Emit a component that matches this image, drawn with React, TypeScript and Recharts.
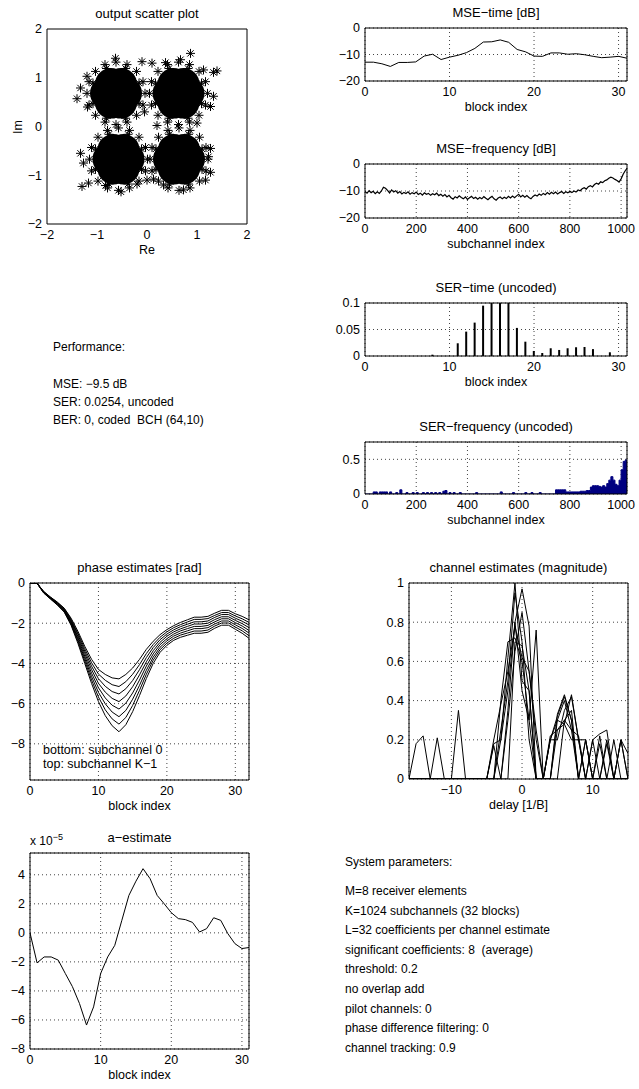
import React from 'react';
import {
  ComposedChart,
  ScatterChart,
  Scatter,
  Line,
  Bar,
  Area,
  XAxis,
  YAxis,
  CartesianGrid,
  ReferenceArea,
} from 'recharts';

const FONT = '"Liberation Sans", Arial, Helvetica, sans-serif';

// ---------- data ----------

// scatter plot: dense cluster cores (drawn as filled discs) and the ragged edge / outlier points
const scatterCore: [number, number][] = [
  [-0.62, 0.68], [-0.42, 0.68], [-0.52, 0.87], [-0.72, 0.87], [-0.82, 0.68], [-0.72, 0.49], [-0.52, 0.49],
  [0.63, 0.68], [0.83, 0.68], [0.73, 0.87], [0.53, 0.87], [0.43, 0.68], [0.53, 0.49], [0.73, 0.49],
  [-0.57, -0.67], [-0.37, -0.67], [-0.47, -0.48], [-0.67, -0.48], [-0.77, -0.67], [-0.67, -0.86], [-0.47, -0.86],
  [0.64, -0.67], [0.84, -0.67], [0.74, -0.48], [0.54, -0.48], [0.44, -0.67], [0.54, -0.86], [0.74, -0.86],
];

const scatterEdge: [number, number][] = [
  // upper left
  [-0.16, 0.89], [-0.43, 1.19], [-0.81, 1.19], [-1.08, 0.89], [-1.08, 0.47], [-0.81, 0.17], [-0.43, 0.17], [-0.16, 0.47],
  [-0.04, 0.68], [-0.08, 0.92], [-0.21, 1.13], [-0.4, 1.27], [-0.62, 1.32], [-0.84, 1.27], [-1.03, 1.13], [-1.16, 0.92],
  [-1.2, 0.68], [-1.16, 0.44], [-1.03, 0.23], [-0.84, 0.09], [-0.62, 0.04], [-0.4, 0.09], [-0.21, 0.23], [-0.08, 0.44],
  // upper right
  [1.09, 0.89], [0.82, 1.19], [0.44, 1.19], [0.17, 0.89], [0.17, 0.47], [0.44, 0.17], [0.82, 0.17], [1.09, 0.47],
  [1.21, 0.68], [1.17, 0.92], [1.04, 1.13], [0.85, 1.27], [0.63, 1.32], [0.41, 1.27], [0.22, 1.13], [0.09, 0.92],
  [0.05, 0.68], [0.09, 0.44], [0.22, 0.23], [0.41, 0.09], [0.63, 0.04], [0.85, 0.09], [1.04, 0.23], [1.17, 0.44],
  // lower left
  [-0.11, -0.46], [-0.38, -0.16], [-0.76, -0.16], [-1.03, -0.46], [-1.03, -0.88], [-0.76, -1.18], [-0.38, -1.18], [-0.11, -0.88],
  [0.01, -0.67], [-0.03, -0.43], [-0.16, -0.22], [-0.35, -0.08], [-0.57, -0.03], [-0.79, -0.08], [-0.98, -0.22], [-1.11, -0.43],
  [-1.15, -0.67], [-1.11, -0.91], [-0.98, -1.12], [-0.79, -1.26], [-0.57, -1.31], [-0.35, -1.26], [-0.16, -1.12], [-0.03, -0.91],
  // lower right
  [1.1, -0.46], [0.83, -0.16], [0.45, -0.16], [0.18, -0.46], [0.18, -0.88], [0.45, -1.18], [0.83, -1.18], [1.1, -0.88],
  [1.22, -0.67], [1.18, -0.43], [1.05, -0.22], [0.86, -0.08], [0.64, -0.03], [0.42, -0.08], [0.23, -0.22], [0.1, -0.43],
  [0.06, -0.67], [0.1, -0.91], [0.23, -1.12], [0.42, -1.26], [0.64, -1.31], [0.86, -1.26], [1.05, -1.12], [1.18, -0.91],
  // outliers
  [0.87, 1.5], [-0.63, 1.4], [-0.1, 1.33], [0.1, 1.3], [0.37, 1.31], [0.67, 1.37], [1.13, 1.16], [1.4, 1.14], [1.33, 1.11],
  [-1.2, 1.03], [-1.33, 0.79], [-1.4, 0.57], [-1.19, 0.4], [1.33, 0.62], [1.27, 0.41], [1.0, 0.07], [-1.33, -0.55],
  [-1.27, -0.75], [-1.17, -1.16], [-1.3, -1.23], [-0.83, -1.21], [-0.52, -1.34], [-0.2, -1.18], [0.0, -1.1], [0.13, -1.08],
  [0.33, -1.2], [0.73, -1.3], [1.17, -1.1], [1.27, -0.45], [1.23, -0.62], [1.27, -0.94], [-0.05, 0.3], [0.2, 0.02],
];

const blocks = [0, 1, 2, 3, 4, 5, 6, 7, 8, 9, 10, 11, 12, 13, 14, 15, 16, 17, 18, 19, 20, 21, 22, 23, 24, 25, 26, 27, 28, 29, 30, 31];
const phaseBlocks = [0, 1, 2, 3, 4, 5, 6, 7, 8, 9, 10, 11, 12, 13, 14, 15, 16, 17, 18, 19, 20, 21, 22, 23, 24, 25, 26, 27, 28, 29, 30, 31, 32];
const delays = [-16, -15, -14, -13, -12, -11, -10, -9, -8, -7, -6, -5, -4, -3, -2, -1, 0, 1, 2, 3, 4, 5, 6, 7, 8, 9, 10, 11, 12, 13, 14, 15];

const mseTime = [
  -12.9, -12.9, -13.5, -14.5, -13.0, -13.0, -12.8, -10.6, -9.9, -11.9, -11.0, -10.3, -9.3, -7.7, -5.3, -5.2,
  -4.5, -5.4, -8.1, -9.0, -10.6, -10.7, -9.4, -9.4, -9.9, -9.7, -10.1, -10.7, -11.2, -11.0, -10.7, -11.4,
];

// one value every 8 subchannels
const FREQ_STEP = 8;
const mseFreq = [
  -10.2, -10.8, -9.9, -10.6, -10.1, -11.0, -10.3, -10.9, -10.0, -8.6, -9.0, -9.8, -10.7, -9.6, -10.4, -9.9,
  -10.8, -10.2, -11.1, -10.5, -10.9, -10.3, -11.2, -10.6, -11.0, -10.4, -11.3, -10.8, -11.5, -10.7, -11.2, -10.9,
  -11.6, -11.0, -11.4, -10.8, -11.7, -11.2, -11.9, -11.3, -12.2, -11.6, -12.5, -13.0, -12.1, -12.6, -11.8, -12.4,
  -12.9, -12.2, -13.1, -12.5, -12.0, -12.8, -12.3, -13.0, -12.4, -12.9, -12.1, -12.7, -13.2, -12.5, -12.0, -12.9,
  -13.4, -12.6, -12.2, -12.9, -12.3, -12.8, -12.0, -12.6, -11.9, -12.5, -11.8, -11.2, -12.2, -11.6, -12.3, -11.7,
  -12.4, -12.9, -12.0, -11.5, -11.9, -11.1, -11.6, -10.9, -11.4, -10.6, -11.2, -10.5, -11.0, -10.4, -11.1, -10.6,
  -10.2, -10.9, -10.3, -10.7, -10.1, -10.6, -10.0, -10.4, -9.6, -9.9, -9.2, -8.8, -9.3, -8.4, -8.0, -8.5,
  -7.6, -7.1, -7.5, -6.6, -6.9, -6.2, -5.9, -5.3, -4.9, -5.2, -5.7, -6.1, -6.7, -5.5, -3.8, -2.5,
  -1.6,
];

const serTime = [
  0, 0, 0, 0, 0, 0, 0, 0, 0.0025, 0, 0, 0.024, 0.046, 0.063, 0.095, 0.13,
  0.14, 0.12, 0.053, 0.027, 0.0095, 0.0057, 0.0146, 0.0114, 0.0146, 0.0165, 0.017, 0.013, 0, 0.007, 0, 0,
];

const serFreq = [
  0, 0, 0, 0, 0.03, 0.03, 0, 0.03, 0.03, 0.03, 0.03, 0, 0.03, 0, 0, 0.02,
  0, 0.06, 0, 0, 0.02, 0, 0, 0.02, 0, 0.02, 0, 0, 0.02, 0, 0.02, 0,
  0.02, 0, 0.02, 0, 0.02, 0, 0.04, 0.05, 0, 0.02, 0, 0.02, 0, 0, 0.02, 0,
  0, 0, 0, 0, 0, 0, 0.02, 0, 0, 0, 0, 0, 0, 0, 0, 0,
  0, 0, 0.03, 0, 0, 0, 0, 0, 0.02, 0, 0, 0, 0, 0, 0.02, 0,
  0, 0.02, 0, 0, 0, 0.02, 0, 0, 0, 0, 0, 0, 0, 0.06, 0.06, 0.06,
  0.06, 0.06, 0.03, 0.03, 0.03, 0.03, 0.03, 0.03, 0.03, 0.04, 0.04, 0.04, 0.05, 0.05, 0.1, 0.12,
  0.12, 0.12, 0.11, 0.1, 0.12, 0.1, 0.15, 0.2, 0.25, 0.2, 0.14, 0.12, 0.2, 0.35, 0.47, 0.49,
  0.5,
];

// phase estimates, bottom curve (subchannel 0) first, top curve (subchannel K-1) last
const phaseCurves = [
  [0, 0, -0.5, -0.8, -1.1, -1.45, -2.1, -3.0, -4.0, -5.0, -5.9, -6.6, -7.1, -7.4, -7.05, -6.4, -5.6, -4.75, -4.0, -3.45, -3.1, -2.85, -2.7, -2.6, -2.5, -2.5, -2.45, -2.25, -2.1, -2.1, -2.3, -2.5, -2.75],
  [0, 0, -0.49, -0.79, -1.08, -1.42, -2.05, -2.91, -3.88, -4.83, -5.67, -6.31, -6.76, -7.02, -6.69, -6.09, -5.34, -4.54, -3.84, -3.32, -2.99, -2.75, -2.59, -2.49, -2.39, -2.39, -2.34, -2.14, -1.99, -1.99, -2.19, -2.38, -2.62],
  [0, 0, -0.48, -0.77, -1.06, -1.39, -2.0, -2.83, -3.76, -4.66, -5.44, -6.01, -6.42, -6.65, -6.34, -5.78, -5.09, -4.34, -3.69, -3.2, -2.88, -2.64, -2.49, -2.38, -2.27, -2.27, -2.22, -2.04, -1.89, -1.89, -2.08, -2.26, -2.49],
  [0, 0, -0.47, -0.76, -1.04, -1.36, -1.95, -2.74, -3.64, -4.49, -5.21, -5.72, -6.08, -6.27, -5.98, -5.47, -4.83, -4.13, -3.53, -3.07, -2.77, -2.54, -2.38, -2.27, -2.16, -2.16, -2.11, -1.93, -1.78, -1.78, -1.97, -2.14, -2.36],
  [0, 0, -0.45, -0.74, -1.01, -1.34, -1.9, -2.66, -3.51, -4.31, -4.99, -5.43, -5.74, -5.9, -5.62, -5.16, -4.57, -3.92, -3.37, -2.95, -2.65, -2.43, -2.28, -2.16, -2.04, -2.04, -2.0, -1.82, -1.68, -1.68, -1.86, -2.02, -2.22],
  [0, 0, -0.44, -0.73, -0.99, -1.31, -1.85, -2.57, -3.39, -4.14, -4.76, -5.14, -5.4, -5.52, -5.26, -4.85, -4.31, -3.71, -3.21, -2.82, -2.54, -2.33, -2.17, -2.05, -1.93, -1.93, -1.89, -1.71, -1.57, -1.57, -1.75, -1.9, -2.09],
  [0, 0, -0.43, -0.71, -0.97, -1.28, -1.8, -2.49, -3.27, -3.97, -4.53, -4.84, -5.06, -5.15, -4.91, -4.54, -4.06, -3.51, -3.06, -2.7, -2.43, -2.22, -2.07, -1.94, -1.81, -1.81, -1.77, -1.61, -1.47, -1.47, -1.64, -1.78, -1.96],
  [0, 0, -0.42, -0.7, -0.95, -1.25, -1.75, -2.4, -3.15, -3.8, -4.3, -4.55, -4.72, -4.77, -4.55, -4.23, -3.8, -3.3, -2.9, -2.57, -2.32, -2.12, -1.96, -1.83, -1.7, -1.7, -1.66, -1.5, -1.36, -1.36, -1.53, -1.66, -1.83],
];

// channel estimate magnitude, one curve per receiver element
const channelCurves = [
  [0, 0.18, 0.22, 0, 0.21, 0, 0, 0.35, 0, 0, 0, 0, 0.18, 0.2, 0.62, 1.0, 0.5, 0.45, 0, 0, 0.22, 0.25, 0.28, 0.2, 0.2, 0, 0.2, 0.23, 0.25, 0, 0, 0],
  [0, 0, 0, 0, 0, 0, 0, 0, 0, 0, 0, 0, 0.17, 0, 0.35, 0.8, 0.97, 0.78, 0, 0, 0, 0.33, 0.43, 0.3, 0, 0, 0, 0, 0.18, 0, 0.2, 0],
  [0, 0, 0, 0, 0, 0, 0, 0, 0, 0, 0, 0, 0, 0.4, 0.7, 0.72, 0.6, 0.3, 0.76, 0, 0.2, 0.3, 0.28, 0.43, 0.2, 0.2, 0, 0.18, 0, 0, 0.2, 0.13],
  [0, 0, 0, 0, 0, 0, 0, 0, 0, 0, 0, 0, 0, 0.25, 0.5, 0.95, 0.7, 0.2, 0, 0, 0, 0.3, 0.4, 0.25, 0, 0, 0.2, 0, 0, 0, 0, 0],
  [0, 0, 0, 0, 0, 0, 0, 0, 0, 0, 0, 0, 0, 0, 0.3, 0.65, 0.85, 0.55, 0.2, 0, 0.2, 0.2, 0.35, 0.42, 0.2, 0, 0, 0, 0, 0.2, 0, 0],
  [0, 0, 0, 0, 0, 0, 0, 0, 0, 0, 0, 0, 0, 0.2, 0.45, 0.8, 0.45, 0.3, 0, 0, 0, 0, 0.3, 0.25, 0.22, 0, 0, 0, 0.2, 0, 0, 0],
  [0, 0, 0, 0, 0, 0, 0, 0, 0, 0, 0, 0, 0.2, 0.38, 0.55, 0.78, 0.62, 0.55, 0.25, 0, 0, 0.25, 0.3, 0.35, 0, 0.2, 0, 0, 0, 0, 0, 0],
  [0, 0, 0, 0, 0, 0, 0, 0, 0, 0, 0, 0, 0, 0, 0, 0.7, 0.68, 0.45, 0, 0, 0.2, 0.32, 0.42, 0.3, 0, 0.2, 0, 0.22, 0, 0, 0.2, 0],
];

// a-estimate in units of 1e-5
const aEstimate = [
  0, -2.07, -1.66, -1.66, -1.88, -2.8, -3.7, -4.86, -6.35, -5.1, -2.8, -1.66, -0.86, 0.86, 2.58, 3.56,
  4.42, 3.73, 2.58, 2.0, 1.39, 0.98, 0.91, 0.72, 0.06, 0.29, 1.04, 0.86, -0.05, -0.74, -1.08, -1.01,
];

const performanceLines = ['Performance:', '', 'MSE: \u22129.5 dB', 'SER: 0.0254, uncoded', 'BER: 0, coded  BCH (64,10)'];
const systemLines = [
  'M=8 receiver elements',
  'K=1024 subchannels (32 blocks)',
  'L=32 coefficients per channel estimate',
  'significant coefficients: 8  (average)',
  'threshold: 0.2',
  'no overlap add',
  'pilot channels: 0',
  'phase difference filtering: 0',
  'channel tracking: 0.9',
];

// ---------- tables for recharts ----------
const freqX = (i: number) => Math.min(i * FREQ_STEP, 1023);
const mseTimeRows = blocks.map((x, i) => ({ x, v: mseTime[i] }));
const mseFreqRows = mseFreq.map((v, i) => ({ x: freqX(i), v }));
const serTimeRows = blocks.map((x, i) => ({ x, v: serTime[i] }));
const serFreqRows = serFreq.map((v, i) => ({ x: freqX(i), v }));
const phaseRows = phaseBlocks.map((x, i) => {
  const row: Record<string, number> = { x };
  phaseCurves.forEach((c, k) => (row['p' + k] = c[i]));
  return row;
});
const channelRows = delays.map((x, i) => {
  const row: Record<string, number> = { x };
  channelCurves.forEach((c, k) => (row['c' + k] = c[i]));
  return row;
});
const aRows = blocks.map((x, i) => ({ x, v: aEstimate[i] }));
const coreRows = scatterCore.map(([x, y]) => ({ x, y }));
const edgeRows = scatterEdge.map(([x, y]) => ({ x, y }));

// ---------- layout ----------
type Box = { x: number; y: number; w: number; h: number };
const YW = 46;
const XH = 22;
const PT = 10;
const PR = 18;

const B = {
  scatter: { x: 47, y: 29, w: 200, h: 195 },
  mseT: { x: 365, y: 28, w: 262, h: 53 },
  mseF: { x: 365, y: 164, w: 262, h: 54 },
  serT: { x: 365, y: 303, w: 262, h: 53 },
  serF: { x: 365, y: 442, w: 262, h: 52 },
  phase: { x: 30, y: 583, w: 219, h: 197 },
  chan: { x: 409, y: 583, w: 219, h: 196 },
  aEst: { x: 30, y: 853, w: 219, h: 196 },
};

const dims = (b: Box) => ({
  width: YW + b.w + PR,
  height: PT + b.h + XH,
  margin: { top: PT, right: PR, bottom: 0, left: 0 },
});

const tickStyle = { fill: '#000', fontSize: 12.5, fontFamily: FONT };
const fmt = (v: number) => String(v).replace('-', '\u2212');

const xa = (domain: [number, number], ticks: number[]) => ({
  type: 'number' as const,
  dataKey: 'x',
  domain,
  ticks,
  interval: 0 as const,
  allowDataOverflow: true,
  axisLine: false,
  tickLine: false,
  tickSize: 0,
  tickMargin: 6,
  height: XH,
  tick: tickStyle,
  tickFormatter: fmt,
});

const ya = (domain: [number, number], ticks: number[]) => ({
  type: 'number' as const,
  domain,
  ticks,
  interval: 0 as const,
  allowDataOverflow: true,
  axisLine: false,
  tickLine: false,
  tickSize: 0,
  tickMargin: 5,
  width: YW,
  tick: tickStyle,
  tickFormatter: fmt,
});

const grid = <CartesianGrid stroke="#444" strokeDasharray="1 3" />;

const frame = (x: [number, number], y: [number, number]) => (
  <ReferenceArea x1={x[0]} x2={x[1]} y1={y[0]} y2={y[1]} fill="none" stroke="#000" strokeWidth={1} ifOverflow="visible" />
);

function Text({ x, y, children, size = 12.5, align = 'center' }: { x: number; y: number; children: React.ReactNode; size?: number; align?: 'center' | 'left' }) {
  const lh = Math.round(size * 1.2);
  return (
    <div
      style={{
        position: 'absolute',
        left: align === 'center' ? x - 150 : x,
        width: align === 'center' ? 300 : undefined,
        top: y - lh / 2,
        height: lh,
        lineHeight: `${lh}px`,
        fontSize: size,
        textAlign: align,
        whiteSpace: 'pre',
      }}
    >
      {children}
    </div>
  );
}

function Panel({ box, title, xlabel, children }: { box: Box; title?: string; xlabel?: string; children: React.ReactNode }) {
  return (
    <>
      {title && (
        <Text x={box.x + box.w / 2} y={box.y - 15} size={13}>
          {title}
        </Text>
      )}
      <div style={{ position: 'absolute', left: box.x - YW, top: box.y - PT }}>{children}</div>
      {xlabel && (
        <Text x={box.x + box.w / 2} y={box.y + box.h + 26}>
          {xlabel}
        </Text>
      )}
    </>
  );
}

const Star = (p: any) => {
  const { cx, cy } = p;
  if (cx == null || cy == null) return <g />;
  const r = 4.5;
  const d = r * 0.7;
  return (
    <path
      d={`M${cx - r},${cy}L${cx + r},${cy}M${cx},${cy - r}L${cx},${cy + r}M${cx - d},${cy - d}L${cx + d},${cy + d}M${cx - d},${cy + d}L${cx + d},${cy - d}`}
      stroke="#000"
      strokeWidth={1}
      fill="none"
    />
  );
};

const Disc = (p: any) => {
  const { cx, cy } = p;
  if (cx == null || cy == null) return <g />;
  return <circle cx={cx} cy={cy} r={16} fill="#000" />;
};

function TextBlock({ x, y, lines, lh }: { x: number; y: number; lines: string[]; lh: number }) {
  return (
    <div style={{ position: 'absolute', left: x, top: y, fontSize: 12, lineHeight: `${lh}px`, whiteSpace: 'pre' }}>
      {lines.map((l, i) => (
        <div key={i} style={{ height: lh }}>
          {l}
        </div>
      ))}
    </div>
  );
}

export default function App() {
  const curveKeys = [0, 1, 2, 3, 4, 5, 6, 7];
  return (
    <div
      style={{
        position: 'absolute',
        left: 0,
        top: 0,
        width: 639,
        height: 1089,
        background: '#fff',
        color: '#000',
        fontFamily: FONT,
        overflow: 'hidden',
      }}
    >
      {/* output scatter plot */}
      <Panel box={B.scatter} title="output scatter plot" xlabel="Re">
        <ScatterChart {...dims(B.scatter)}>
          <XAxis {...xa([-2, 2], [-2, -1, 0, 1, 2])} />
          <YAxis {...ya([-2, 2], [-2, -1, 0, 1, 2])} dataKey="y" />
          <Scatter data={coreRows} shape={Disc} isAnimationActive={false} />
          <Scatter data={edgeRows} shape={Star} isAnimationActive={false} />
          {frame([-2, 2], [-2, 2])}
        </ScatterChart>
      </Panel>
      <div
        style={{
          position: 'absolute',
          left: 18 - 20,
          top: B.scatter.y + B.scatter.h / 2 - 8,
          width: 40,
          height: 16,
          lineHeight: '16px',
          fontSize: 12.5,
          textAlign: 'center',
          transform: 'rotate(-90deg)',
        }}
      >
        Im
      </div>

      {/* MSE-time */}
      <Panel box={B.mseT} title={'MSE\u2212time [dB]'} xlabel="block index">
        <ComposedChart {...dims(B.mseT)} data={mseTimeRows}>
          {grid}
          <XAxis {...xa([0, 31], [0, 10, 20, 30])} />
          <YAxis {...ya([-20, 0], [-20, -10, 0])} />
          <Line dataKey="v" stroke="#000" strokeWidth={1} dot={false} isAnimationActive={false} />
          {frame([0, 31], [-20, 0])}
        </ComposedChart>
      </Panel>

      {/* MSE-frequency */}
      <Panel box={B.mseF} title={'MSE\u2212frequency [dB]'} xlabel="subchannel index">
        <ComposedChart {...dims(B.mseF)} data={mseFreqRows}>
          {grid}
          <XAxis {...xa([0, 1023], [0, 200, 400, 600, 800, 1000])} />
          <YAxis {...ya([-20, 0], [-20, -10, 0])} />
          <Line dataKey="v" stroke="#000" strokeWidth={1.2} dot={false} isAnimationActive={false} />
          {frame([0, 1023], [-20, 0])}
        </ComposedChart>
      </Panel>

      {/* SER-time */}
      <Panel box={B.serT} title={'SER\u2212time (uncoded)'} xlabel="block index">
        <ComposedChart {...dims(B.serT)} data={serTimeRows}>
          {grid}
          <XAxis {...xa([0, 31], [0, 10, 20, 30])} />
          <YAxis {...ya([0, 0.1], [0, 0.05, 0.1])} />
          <Bar dataKey="v" fill="#000" barSize={2} isAnimationActive={false} />
          {frame([0, 31], [0, 0.1])}
        </ComposedChart>
      </Panel>

      {/* SER-frequency */}
      <Panel box={B.serF} title={'SER\u2212frequency (uncoded)'} xlabel="subchannel index">
        <ComposedChart {...dims(B.serF)} data={serFreqRows}>
          {grid}
          <XAxis {...xa([0, 1023], [0, 200, 400, 600, 800, 1000])} />
          <YAxis {...ya([0, 0.75], [0, 0.5])} />
          <Area
            dataKey="v"
            type="stepAfter"
            stroke="#000080"
            strokeWidth={1}
            fill="#000080"
            fillOpacity={1}
            dot={false}
            isAnimationActive={false}
          />
          {frame([0, 1023], [0, 0.75])}
        </ComposedChart>
      </Panel>

      {/* performance text */}
      <TextBlock x={53} y={338} lines={performanceLines} lh={18.25} />

      {/* phase estimates */}
      <Panel box={B.phase} title="phase estimates [rad]" xlabel="block index">
        <ComposedChart {...dims(B.phase)} data={phaseRows}>
          {grid}
          <XAxis {...xa([0, 32], [0, 10, 20, 30])} />
          <YAxis {...ya([-9.8, 0], [-8, -6, -4, -2, 0])} />
          {curveKeys.map((k) => (
            <Line key={k} dataKey={'p' + k} stroke="#000" strokeWidth={1} dot={false} isAnimationActive={false} />
          ))}
          {frame([0, 32], [-9.8, 0])}
        </ComposedChart>
      </Panel>
      <Text x={43} y={750} align="left">
        bottom: subchannel 0
      </Text>
      <Text x={43} y={764} align="left">
        {'top: subchannel K\u22121'}
      </Text>

      {/* channel estimates */}
      <Panel box={B.chan} title="channel estimates (magnitude)" xlabel="delay [1/B]">
        <ComposedChart {...dims(B.chan)} data={channelRows}>
          {grid}
          <XAxis {...xa([-16, 15], [-10, 0, 10])} />
          <YAxis {...ya([0, 1], [0, 0.2, 0.4, 0.6, 0.8, 1])} />
          {curveKeys.map((k) => (
            <Line key={k} dataKey={'c' + k} stroke="#000" strokeWidth={1} dot={false} isAnimationActive={false} />
          ))}
          {frame([-16, 15], [0, 1])}
        </ComposedChart>
      </Panel>

      {/* a-estimate */}
      <Panel box={B.aEst} title={'a\u2212estimate'} xlabel="block index">
        <ComposedChart {...dims(B.aEst)} data={aRows}>
          {grid}
          <XAxis {...xa([0, 31], [0, 10, 20, 30])} />
          <YAxis {...ya([-8, 5.5], [-8, -6, -4, -2, 0, 2, 4])} />
          <Line dataKey="v" stroke="#000" strokeWidth={1} dot={false} isAnimationActive={false} />
          {frame([0, 31], [-8, 5.5])}
        </ComposedChart>
      </Panel>
      <div style={{ position: 'absolute', left: 30, top: 834, fontSize: 12, lineHeight: '14px', whiteSpace: 'pre' }}>
        x 10<sup style={{ fontSize: 9, verticalAlign: 'top', position: 'relative', top: -4 }}>{'\u22125'}</sup>
      </div>

      {/* system parameters */}
      <Text x={345} y={862} size={12} align="left">
        System parameters:
      </Text>
      <TextBlock x={345} y={882} lines={systemLines} lh={19.6} />
    </div>
  );
}
